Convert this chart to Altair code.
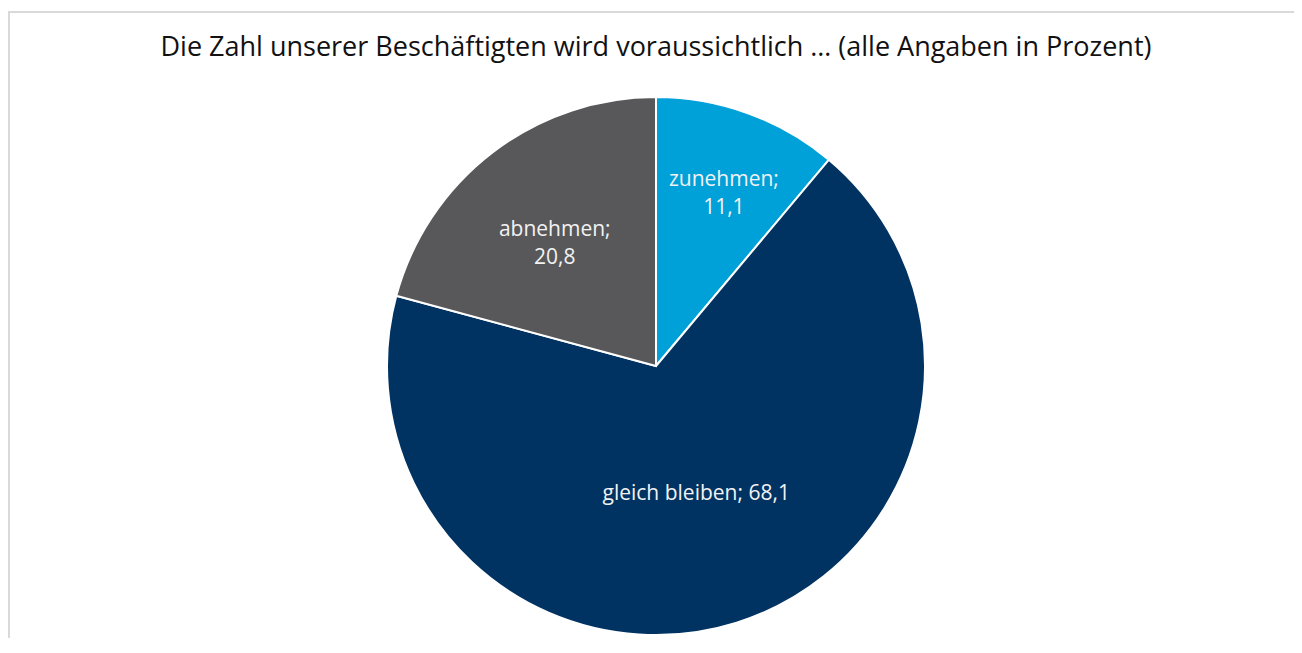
import altair as alt
import pandas as pd

categories = ["zunehmen", "gleich bleiben", "abnehmen"]
values = [11.1, 68.1, 20.8]
value_labels = ["11,1", "68,1", "20,8"]
colors = ["#00A0D9", "#003262", "#58585B"]
title_text = "Die Zahl unserer Beschäftigten wird voraussichtlich … (alle Angaben in Prozent)"

df = pd.DataFrame({
    "kategorie": categories,
    "wert": values,
    "order": list(range(len(categories))),
    "label": [
        "zunehmen;\n11,1",
        "gleich bleiben; 68,1",
        "abnehmen;\n20,8",
    ],
})

W, H = 1286, 630
CX, CY = 648, 358
R = 269
FONT = "Open Sans"

base = alt.Chart(df).encode(
    theta=alt.Theta("wert:Q", stack=True),
    order=alt.Order("order:Q"),
    x=alt.value(CX),
    y=alt.value(CY),
)

pie = base.mark_arc(outerRadius=R, stroke="white", strokeWidth=2).encode(
    color=alt.Color("kategorie:N",
                    scale=alt.Scale(domain=categories, range=colors),
                    legend=None),
)

# radius, dx, dy per label
placement = {"zunehmen": (184, 5, -13), "gleich bleiben": (134, 0, 0),
             "abnehmen": (160, -4, -9)}
label_layers = []
for cat in categories:
    r, dx, dy = placement[cat]
    label_layers.append(
        base.mark_text(radius=r, dx=dx, dy=dy, fontSize=21, font=FONT,
                       color="#F2F2F2", lineBreak="\n", lineHeight=28,
                       align="center", baseline="middle")
        .encode(text="label:N", opacity=alt.condition(
            alt.datum.kategorie == cat, alt.value(1), alt.value(0)))
    )

one = pd.DataFrame({"t": [title_text]})
title = alt.Chart(one).mark_text(fontSize=27, font=FONT, color="#111111",
                                 align="center", baseline="middle").encode(
    text="t:N", x=alt.value(CX), y=alt.value(40))

border_left = alt.Chart(one).mark_rule(color="#D9D9D9", strokeWidth=2).encode(
    x=alt.value(1), y=alt.value(4), y2=alt.value(H))
border_top = alt.Chart(one).mark_rule(color="#D9D9D9", strokeWidth=2).encode(
    x=alt.value(0), x2=alt.value(W), y=alt.value(4))

chart = alt.layer(border_left, border_top, pie, *label_layers, title).properties(
    width=W, height=H, autosize=alt.AutoSizeParams(type="none"), padding=0,
).configure_view(stroke=None)

chart.save("out.html", embed_options={"renderer": "svg", "actions": False})
